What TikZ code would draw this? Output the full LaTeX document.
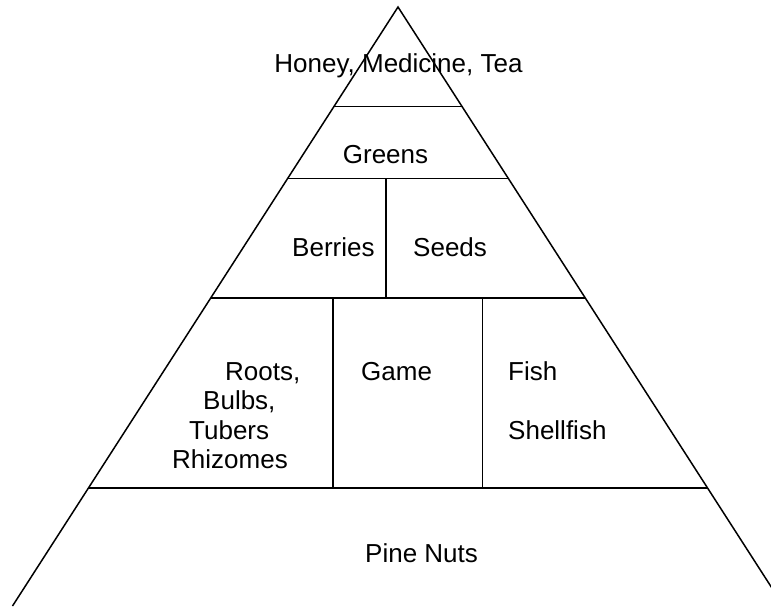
\documentclass[tikz,border=0pt]{standalone}
\usepackage{fontspec}
\setmainfont{Liberation Sans}
\usetikzlibrary{calc}
\begin{document}
\begin{tikzpicture}[x=1pt,y=-1pt,
  edge/.style={line width=1.5pt,black},
  lbl/.style={inner sep=0pt,anchor=base west,font=\fontsize{26}{30}\selectfont}]
\useasboundingbox (0,0) rectangle (771,606);
\clip (0,0) rectangle (771,606);
% triangle
\coordinate (apex) at (398,7);
\coordinate (bl) at (12.5,606);
\coordinate (br) at (783.5,606);
\draw[edge] (bl) -- (apex) -- (br);
% tiers
\coordinate (l1) at (334,106.5);  \coordinate (r1) at (462,106.5);
\coordinate (l2) at (287.6,178.5);\coordinate (r2) at (508.4,178.5);
\coordinate (l3) at (210.7,298);  \coordinate (r3) at (585.3,298);
\coordinate (l4) at (88.5,488);   \coordinate (r4) at (707.5,488);
\draw[edge] (l1) -- (r1);
\draw[edge] (l2) -- (r2);
\draw[edge] (l3) -- (r3);
\draw[edge] (l4) -- (r4);
% dividers
\coordinate (v1t) at (386,178.5); \coordinate (v1b) at (386,298);
\coordinate (v2t) at (333,298);   \coordinate (v2b) at (333,488);
\coordinate (v3t) at (482.5,298); \coordinate (v3b) at (482.5,488);
\draw[edge] (v1t) -- (v1b);
\draw[edge] (v2t) -- (v2b);
\draw[edge] (v3t) -- (v3b);
% labels
\node[lbl,anchor=base] (honey) at (398.5,72) {Honey, Medicine, Tea};
\node[lbl,anchor=base] (greens) at (385.5,163) {Greens};
\node[lbl] (berries) at (292,256) {Berries};
\node[lbl] (seeds) at (413,256) {Seeds};
\node[lbl] (roots) at (225,380) {Roots,};
\node[lbl] (bulbs) at (203,409) {Bulbs,};
\node[lbl] (tubers) at (189,439) {Tubers};
\node[lbl] (rhiz) at (172,468) {Rhizomes};
\node[lbl] (game) at (361,380) {Game};
\node[lbl] (fish) at (508,380) {Fish};
\node[lbl] (shell) at (508,439) {Shellfish};
\node[lbl] (pine) at (365,562) {Pine Nuts};
\end{tikzpicture}
\end{document}
